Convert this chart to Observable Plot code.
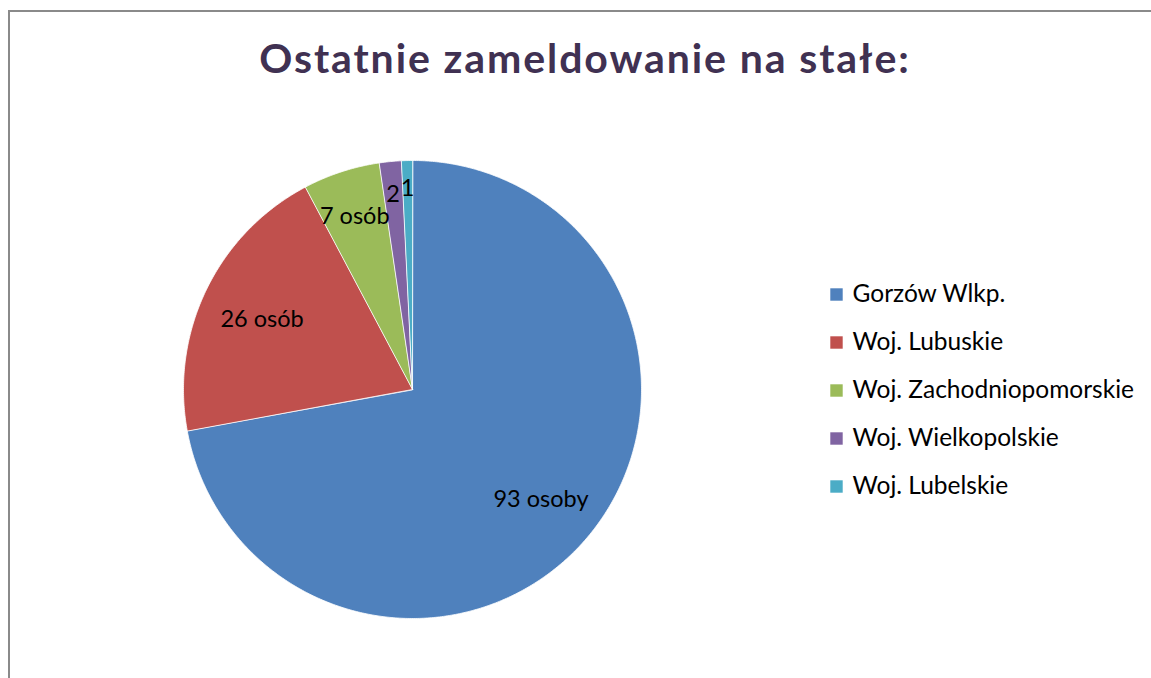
<!DOCTYPE html>
<html><head><meta charset="utf-8">
<script src="https://cdn.jsdelivr.net/npm/d3@7"></script>
<script src="https://cdn.jsdelivr.net/npm/@observablehq/plot@0.6"></script>
<style>
body{margin:0;background:#fff;width:1151px;height:678px;overflow:hidden;position:relative;font-family:Lato,"Open Sans",sans-serif;}
#frame{position:absolute;left:8px;top:10px;width:1200px;height:700px;border-top:2px solid #8a8a8a;border-left:2px solid #8a8a8a;}
#title{position:absolute;left:0;width:1170px;top:33px;text-align:center;font-size:41px;letter-spacing:1.9px;font-weight:700;color:#403152;line-height:1.2;white-space:nowrap;}
#pie{position:absolute;left:181px;top:158px;}
#legend{position:absolute;left:820px;top:270px;}
</style>
</head><body>
<div id="frame"></div>
<div id="title">Ostatnie zameldowanie na stałe:</div>
<div id="pie"></div>
<div id="legend"></div>
<script>
const categories = ["Gorzów Wlkp.", "Woj. Lubuskie", "Woj. Zachodniopomorskie", "Woj. Wielkopolskie", "Woj. Lubelskie"];
const values = [93, 26, 7, 2, 1];
const sliceLabels = ["93 osoby", "26 osób", "7 osób", "2", "1"];
const colors = ["#4F81BD", "#C0504D", "#9BBB59", "#8064A2", "#4BACC6"];

const total = d3.sum(values);
const arcs = d3.pie().sort(null)(values);
const points = [];
const labelData = [];
arcs.forEach((a, i) => {
  const cat = categories[i];
  points.push({cat, x: 0, y: 0});
  const n = Math.max(2, Math.ceil((a.endAngle - a.startAngle) / (Math.PI / 360)));
  for (let k = 0; k <= n; k++) {
    const t = a.startAngle + (a.endAngle - a.startAngle) * k / n;
    points.push({cat, x: Math.sin(t), y: Math.cos(t)});
  }
  const share = values[i] / total;
  const rf = share > 0.15 ? 0.73 : share > 0.03 ? 0.81 : share > 0.01 ? 0.87 : 0.89;
  const mid = (a.startAngle + a.endAngle) / 2;
  labelData.push({text: sliceLabels[i], x: rf * Math.sin(mid), y: rf * Math.cos(mid)});
});

const color = {domain: categories, range: colors};
const font = {fontFamily: "Lato, 'Open Sans', sans-serif", background: "transparent", overflow: "visible"};

const pie = Plot.plot({
  width: 462, height: 462, margin: 2,
  x: {domain: [-1, 1], axis: null},
  y: {domain: [-1, 1], axis: null},
  color,
  style: font,
  marks: [
    Plot.line(points, {x: "x", y: "y", z: "cat", fill: "cat", stroke: "white", strokeWidth: 0.8, curve: "linear-closed"}),
    Plot.text(labelData, {x: "x", y: "y", text: "text", fontSize: 23.5, fill: "black", dy: 3})
  ]
});
document.getElementById("pie").appendChild(pie);

const legend = Plot.plot({
  width: 330, height: 240, margin: 0,
  y: {domain: categories, axis: null, padding: 0.5},
  color,
  style: font,
  marks: [
    Plot.dot(categories, {y: d => d, frameAnchor: "left", dx: 16, symbol: "square", r: 7, fill: d => d}),
    Plot.text(categories, {y: d => d, text: d => d, frameAnchor: "left", dx: 32, textAnchor: "start", fontSize: 24.5, fill: "black"})
  ]
});
document.getElementById("legend").appendChild(legend);
</script>
</body></html>
